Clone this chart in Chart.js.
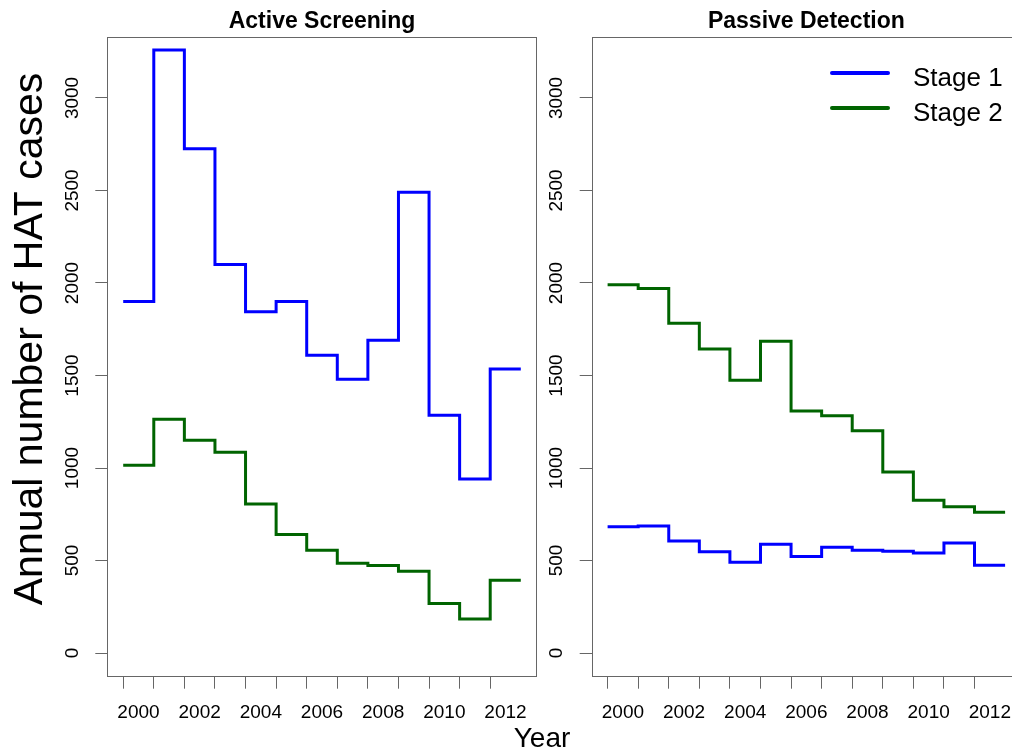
<!DOCTYPE html>
<html>
<head>
<meta charset="utf-8">
<script src="https://cdn.jsdelivr.net/npm/chart.js@4.4.1/dist/chart.umd.min.js"></script>
<style>
  body { margin: 0; background: #fff; overflow: hidden; }
  #wrap { position: relative; width: 1012px; height: 751px; overflow: hidden; }
  canvas { position: absolute; top: 0; }
</style>
</head>
<body>
<div id="wrap">
  <canvas id="active" width="1012" height="751" style="left:0"></canvas>
  <canvas id="passive" width="490" height="751" style="left:545px"></canvas>
</div>
<script>
// Dados (casos anuais de HAT)
const years = [2000, 2001, 2002, 2003, 2004, 2005, 2006, 2007, 2008, 2009, 2010, 2011, 2012];
const activeStage1 = [1900, 3260, 2725, 2100, 1845, 1900, 1610, 1480, 1690, 2490, 1285, 940, 1535];
const activeStage2 = [1015, 1263, 1150, 1085, 805, 640, 556, 485, 473, 442, 268, 184, 393];
const passiveStage1 = [682, 687, 606, 547, 490, 588, 522, 572, 556, 550, 541, 595, 475];
const passiveStage2 = [1990, 1970, 1782, 1643, 1474, 1685, 1308, 1283, 1201, 978, 826, 790, 761];
const yTicks = [0, 500, 1000, 1500, 2000, 2500, 3000];
const yearLabels = [2000, 2002, 2004, 2006, 2008, 2010, 2012];
const seriesNames = ['Stage 1', 'Stage 2'];

const FONT = "'Liberation Sans', Arial, sans-serif";
const BLUE = '#0000ff';
const GREEN = '#006400';
const AXIS = '#666';

// degraus: cada ano ocupa [ano-0.5, ano+0.5]
function stepPoints(vals) {
  const pts = years.map((y, i) => ({ x: y - 0.5, y: vals[i] }));
  pts.push({ x: years[years.length - 1] + 0.5, y: vals[vals.length - 1] });
  return pts;
}

const boxPlugin = {
  id: 'box',
  afterDraw(chart) {
    const { ctx, chartArea: a } = chart;
    ctx.save();
    ctx.strokeStyle = AXIS;
    ctx.lineWidth = 1;
    ctx.strokeRect(Math.round(a.left) + 0.5, Math.round(a.top) + 0.5,
      Math.round(a.right - a.left), Math.round(a.bottom - a.top));
    ctx.restore();
  }
};

// títulos externos (eixo y e "Year")
const outerTitles = {
  id: 'outerTitles',
  afterDraw(chart) {
    const ctx = chart.ctx;
    ctx.save();
    ctx.fillStyle = '#000';
    ctx.font = `41px ${FONT}`;
    ctx.textAlign = 'center';
    ctx.textBaseline = 'alphabetic';
    ctx.translate(42, 339);
    ctx.rotate(-Math.PI / 2);
    ctx.fillText('Annual number of HAT cases', 0, 0);
    ctx.restore();

    ctx.save();
    ctx.fillStyle = '#000';
    ctx.font = `28px ${FONT}`;
    ctx.textAlign = 'center';
    ctx.textBaseline = 'alphabetic';
    ctx.fillText('Year', 542, 747);
    ctx.restore();
  }
};

const legendPlugin = {
  id: 'stageLegend',
  afterDraw(chart) {
    const ctx = chart.ctx;
    const x0 = 287, x1 = 343, tx = 368;
    const rows = [73, 108];
    ctx.save();
    chart.data.datasets.forEach((ds, i) => {
      ctx.strokeStyle = ds.borderColor;
      ctx.lineWidth = 4;
      ctx.lineCap = 'round';
      ctx.beginPath();
      ctx.moveTo(x0, rows[i]);
      ctx.lineTo(x1, rows[i]);
      ctx.stroke();
      ctx.fillStyle = '#000';
      ctx.font = `26px ${FONT}`;
      ctx.textAlign = 'left';
      ctx.textBaseline = 'alphabetic';
      ctx.fillText(ds.label, tx, rows[i] + 12.5);
    });
    ctx.restore();
  }
};

function buildConfig(title, stage1, stage2, yAxisWidth, padRight, extraPlugins) {
  return {
    type: 'line',
    data: {
      datasets: [
        { label: seriesNames[0], data: stepPoints(stage1), borderColor: BLUE, borderWidth: 3 },
        { label: seriesNames[1], data: stepPoints(stage2), borderColor: GREEN, borderWidth: 3 }
      ].map(ds => Object.assign(ds, { stepped: 'before', pointRadius: 0, fill: false }))
    },
    options: {
      responsive: false,
      animation: false,
      devicePixelRatio: 1,
      layout: { padding: { left: 0, right: padRight, top: 0.2, bottom: 22.3 } },
      plugins: {
        legend: { display: false },
        tooltip: { enabled: false },
        title: {
          display: true, text: title, fullSize: false, color: '#000',
          font: { family: FONT, size: 23, weight: 'bold' },
          padding: { top: 8, bottom: 1.5 }
        }
      },
      scales: {
        x: {
          type: 'linear', position: 'bottom', weight: 0,
          min: 1998.98, max: 2013.02,
          afterBuildTicks: s => { s.ticks = years.map(y => ({ value: y - 0.5 })); },
          afterFit: s => { s.height = 12; },
          ticks: { display: false },
          grid: { drawOnChartArea: false, tickLength: 12, color: AXIS },
          border: { display: false }
        },
        xl: {
          type: 'linear', position: 'bottom', weight: 1,
          min: 1998.98, max: 2013.02,
          afterBuildTicks: s => { s.ticks = yearLabels.map(y => ({ value: y })); },
          afterFit: s => { s.height = 40; },
          ticks: {
            autoSkip: false, maxRotation: 0, padding: 13, color: '#000',
            font: { family: FONT, size: 19 },
            callback: v => String(v)
          },
          grid: { display: false, drawTicks: false },
          border: { display: false }
        },
        y: {
          min: -128, max: 3328,
          afterBuildTicks: s => { s.ticks = yTicks.map(v => ({ value: v })); },
          afterFit: s => { s.width = yAxisWidth; },
          ticks: {
            minRotation: 90, maxRotation: 90, crossAlign: 'center', padding: 1.4,
            color: '#000', font: { family: FONT, size: 19 },
            callback: v => String(v)
          },
          grid: { drawOnChartArea: false, tickLength: 12, color: AXIS },
          border: { display: false }
        }
      }
    },
    plugins: [boxPlugin].concat(extraPlugins)
  };
}

new Chart(document.getElementById('active'),
  buildConfig('Active Screening', activeStage1, activeStage2, 107.3, 475.3, [outerTitles]));
new Chart(document.getElementById('passive'),
  buildConfig('Passive Detection', passiveStage1, passiveStage2, 46.7, 14, [legendPlugin]));
</script>
</body>
</html>
